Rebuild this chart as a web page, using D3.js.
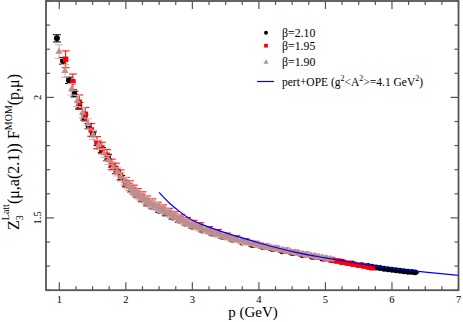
<!DOCTYPE html>
<html>
<head>
<meta charset="utf-8">
<script src="https://cdn.jsdelivr.net/npm/d3@7"></script>
<style>
  body { margin: 0; background: #fff; }
</style>
</head>
<body>
<script>
// beta = 2.10 (black circles)
var p210 = [0.964, 1.055, 1.145, 1.226, 1.300, 1.377, 1.440, 1.506, 1.575, 1.640, 1.732, 1.790, 1.860, 1.930, 2.000,
            2.080, 2.160, 2.240, 2.320, 2.400, 2.500, 2.600, 2.700, 2.800, 2.900, 3.000, 3.150, 3.300, 3.450, 3.600,
            3.750, 3.900, 4.050, 4.200, 4.350, 4.500, 4.650, 4.800, 4.950, 5.100, 5.250, 5.400, 5.550, 5.640, 5.700,
            5.760, 5.820, 5.880, 5.940, 6.000, 6.060, 6.120, 6.180, 6.240, 6.300, 6.350];
var z210 = [2.245, 2.152, 2.071, 2.014, 1.967, 1.917, 1.881, 1.847, 1.810, 1.782, 1.754, 1.720, 1.693, 1.667, 1.640,
            1.615, 1.595, 1.575, 1.558, 1.545, 1.530, 1.516, 1.502, 1.488, 1.476, 1.463, 1.448, 1.434, 1.421, 1.409,
            1.398, 1.388, 1.380, 1.371, 1.362, 1.354, 1.346, 1.339, 1.332, 1.325, 1.318, 1.311, 1.304, 1.300, 1.297,
            1.294, 1.292, 1.289, 1.287, 1.285, 1.283, 1.281, 1.279, 1.277, 1.276, 1.274];
var e210 = [0.015, 0.014, 0.013, 0.012, 0.012, 0.011, 0.011, 0.010, 0.010, 0.010, 0.010, 0.009, 0.009, 0.009, 0.008,
            0.008, 0.008, 0.008, 0.008, 0.007, 0.007, 0.007, 0.007, 0.007, 0.006, 0.006, 0.006, 0.006, 0.006, 0.005,
            0.005, 0.005, 0.005, 0.005, 0.005, 0.004, 0.004, 0.004, 0.004, 0.004, 0.004, 0.004, 0.004, 0.004, 0.003,
            0.003, 0.003, 0.003, 0.003, 0.003, 0.003, 0.003, 0.003, 0.003, 0.003, 0.003];

// beta = 1.95 (red squares)
var p195 = [1.095, 1.205, 1.300, 1.390, 1.480, 1.567, 1.640, 1.717, 1.790, 1.850, 1.920, 2.000, 2.060, 2.120, 2.180,
            2.250, 2.320, 2.400, 2.480, 2.560, 2.650, 2.740, 2.830, 2.920, 3.020, 3.120, 3.250, 3.380, 3.520, 3.660,
            3.800, 3.950, 4.100, 4.250, 4.400, 4.550, 4.700, 4.850, 5.000, 5.100, 5.180, 5.260, 5.340, 5.420, 5.500,
            5.580, 5.650, 5.700];
var z195 = [2.158, 2.065, 1.980, 1.930, 1.865, 1.812, 1.790, 1.760, 1.722, 1.705, 1.678, 1.648, 1.634, 1.617, 1.602,
            1.590, 1.573, 1.561, 1.548, 1.537, 1.523, 1.510, 1.499, 1.486, 1.475, 1.465, 1.450, 1.438, 1.424, 1.413,
            1.402, 1.391, 1.381, 1.373, 1.364, 1.356, 1.348, 1.339, 1.331, 1.325, 1.321, 1.316, 1.312, 1.308, 1.304,
            1.300, 1.296, 1.293];
var e195 = [0.035, 0.032, 0.030, 0.028, 0.026, 0.025, 0.024, 0.023, 0.022, 0.022, 0.021, 0.020, 0.020, 0.019, 0.019,
            0.018, 0.018, 0.018, 0.017, 0.017, 0.017, 0.016, 0.016, 0.016, 0.015, 0.015, 0.014, 0.014, 0.013, 0.013,
            0.012, 0.012, 0.011, 0.011, 0.011, 0.010, 0.010, 0.009, 0.009, 0.008, 0.008, 0.008, 0.007, 0.007, 0.007,
            0.006, 0.006, 0.006];

// beta = 1.90 (rosy triangles)
var p190 = [0.995, 1.085, 1.185, 1.270, 1.350, 1.430, 1.510, 1.590, 1.670, 1.740,
            1.810, 1.870, 1.930, 1.980, 2.030, 2.055, 2.080, 2.105, 2.130, 2.155,
            2.180, 2.205, 2.230, 2.260, 2.290, 2.320, 2.350, 2.380, 2.410, 2.440,
            2.470, 2.500, 2.530, 2.565, 2.600, 2.635, 2.670, 2.705, 2.740, 2.775,
            2.810, 2.845, 2.880, 2.915, 2.950, 2.990, 3.030, 3.070, 3.110, 3.155,
            3.200, 3.245, 3.290, 3.335, 3.380, 3.430, 3.480, 3.530, 3.580, 3.630,
            3.680, 3.735, 3.790, 3.845, 3.900, 3.955, 4.010, 4.065, 4.120, 4.180,
            4.240, 4.300, 4.360, 4.420, 4.480, 4.540, 4.600, 4.660, 4.720, 4.780,
            4.840, 4.900, 4.960, 5.020, 5.080];
var z190 = [2.190, 2.110, 2.034, 1.985, 1.937, 1.890, 1.845, 1.803, 1.769, 1.740,
            1.712, 1.691, 1.670, 1.652, 1.637, 1.629, 1.622, 1.615, 1.608, 1.602,
            1.596, 1.590, 1.585, 1.579, 1.573, 1.568, 1.563, 1.558, 1.553, 1.549,
            1.545, 1.540, 1.536, 1.531, 1.526, 1.520, 1.515, 1.510, 1.505, 1.500,
            1.495, 1.490, 1.485, 1.480, 1.476, 1.471, 1.467, 1.463, 1.459, 1.454,
            1.450, 1.445, 1.441, 1.436, 1.432, 1.428, 1.424, 1.420, 1.416, 1.412,
            1.409, 1.405, 1.401, 1.397, 1.394, 1.391, 1.388, 1.384, 1.381, 1.377,
            1.374, 1.370, 1.367, 1.363, 1.360, 1.357, 1.354, 1.351, 1.348, 1.345,
            1.342, 1.339, 1.336, 1.333, 1.330];
var e190 = [0.028, 0.026, 0.024, 0.023, 0.022, 0.021, 0.020, 0.019, 0.018, 0.018,
            0.017, 0.017, 0.017, 0.016, 0.016, 0.016, 0.016, 0.016, 0.016, 0.016,
            0.015, 0.015, 0.015, 0.015, 0.015, 0.015, 0.015, 0.015, 0.015, 0.015,
            0.014, 0.014, 0.014, 0.014, 0.014, 0.014, 0.014, 0.014, 0.014, 0.014,
            0.013, 0.013, 0.013, 0.013, 0.013, 0.013, 0.013, 0.013, 0.013, 0.013,
            0.012, 0.012, 0.012, 0.012, 0.012, 0.012, 0.012, 0.012, 0.012, 0.012,
            0.011, 0.011, 0.011, 0.010, 0.010, 0.010, 0.010, 0.010, 0.010, 0.010,
            0.010, 0.009, 0.009, 0.009, 0.009, 0.009, 0.009, 0.009, 0.009, 0.009,
            0.009, 0.008, 0.008, 0.008, 0.008];

// pert+OPE curve
var pFit = [2.50, 2.65, 2.81, 3.00, 3.20, 3.41, 3.70, 4.02, 4.30, 4.59, 5.00, 5.40, 5.67, 6.00, 6.50, 7.00];
var zFit = [1.606, 1.563, 1.526, 1.490, 1.467, 1.446, 1.421, 1.395, 1.374, 1.355, 1.334, 1.315, 1.303, 1.290, 1.275, 1.262];

var xTicks = [1, 2, 3, 4, 5, 6, 7];
var yTicks = [1.5, 2];

function init() {
    var W = 463, H = 322;
    var left = 46, right = 458.5, top = 1, bottom = 290.2;
    var serif = "'Liberation Serif', 'Times New Roman', Times, serif";

    var x = d3.scaleLinear().domain([0.8, 7]).range([left, right]);
    var y = d3.scaleLinear().domain([1.2, 2.4]).range([bottom, top]);

    var svg = d3.select("body").append("svg")
        .attr("width", W).attr("height", H)
        .attr("font-family", serif);

    // minor / major ticks, drawn inward on all four sides
    var frameCol = "#555";
    var ticks = svg.append("g").attr("stroke", frameCol).attr("stroke-width", 1.2);
    var xMinor = d3.range(1, 7.001, 0.25);
    xMinor.forEach(function(v) {
        var major = Math.abs(v - Math.round(v)) < 1e-6;
        var len = major ? 8 : 4;
        ticks.append("line").attr("x1", x(v)).attr("x2", x(v)).attr("y1", bottom).attr("y2", bottom - len);
        ticks.append("line").attr("x1", x(v)).attr("x2", x(v)).attr("y1", top).attr("y2", top + len);
    });
    var yMinor = d3.range(1.2, 2.4001, 0.1);
    yMinor.forEach(function(v) {
        var major = Math.abs(v * 2 - Math.round(v * 2)) < 1e-6;
        var len = major ? 8 : 4;
        ticks.append("line").attr("y1", y(v)).attr("y2", y(v)).attr("x1", left).attr("x2", left + len);
        ticks.append("line").attr("y1", y(v)).attr("y2", y(v)).attr("x1", right).attr("x2", right - len);
    });

    // frame
    svg.append("rect")
        .attr("x", left).attr("y", top)
        .attr("width", right - left).attr("height", bottom - top)
        .attr("fill", "none").attr("stroke", frameCol).attr("stroke-width", 1.8);

    // tick labels
    svg.append("g").selectAll("text").data(xTicks).enter().append("text")
        .attr("x", function(d) { return x(d); })
        .attr("y", 303)
        .attr("text-anchor", "middle")
        .attr("font-size", 10.5)
        .text(function(d) { return d; });

    svg.append("g").selectAll("text").data(yTicks).enter().append("text")
        .attr("transform", function(d) { return "translate(41," + y(d) + ") rotate(-90)"; })
        .attr("text-anchor", "middle")
        .attr("font-size", 10.5)
        .text(function(d) { return d; });

    // axis titles
    svg.append("text")
        .attr("x", 253).attr("y", 317)
        .attr("text-anchor", "middle")
        .attr("font-size", 15)
        .text("p (GeV)");

    var yl = svg.append("text")
        .attr("transform", "translate(19,230) rotate(-90)")
        .attr("font-size", 16);
    yl.append("tspan").text("Z");
    yl.append("tspan").attr("font-size", 10).attr("dy", 4).text("3");
    yl.append("tspan").attr("font-size", 10).attr("dx", -5).attr("dy", -14).text("Latt");
    yl.append("tspan").attr("dy", 10).text("(\u03bc,a(2.1)) F");
    yl.append("tspan").attr("font-size", 10).attr("dy", -7).text("MOM");
    yl.append("tspan").attr("dy", 7).text("(p,\u03bc)");

    var plot = svg.append("g");

    function drawSeries(ps, zs, es, color, barColor, shape, size) {
        var data = ps.map(function(p, i) { return {p: p, z: zs[i], e: es[i]}; });
        var g = plot.append("g");
        var bars = g.append("g").attr("stroke", barColor).attr("stroke-width", 1);
        data.forEach(function(d) {
            var cx = x(d.p), y0 = y(d.z - d.e), y1 = y(d.z + d.e);
            bars.append("line").attr("x1", cx).attr("x2", cx).attr("y1", y0).attr("y2", y1);
            bars.append("line").attr("x1", cx - 4).attr("x2", cx + 4).attr("y1", y0).attr("y2", y0);
            bars.append("line").attr("x1", cx - 4).attr("x2", cx + 4).attr("y1", y1).attr("y2", y1);
        });
        g.selectAll("path.m").data(data).enter().append("path")
            .attr("class", "m")
            .attr("d", d3.symbol().type(shape).size(size))
            .attr("transform", function(d) { return "translate(" + x(d.p) + "," + y(d.z) + ")"; })
            .attr("fill", color);
    }

    drawSeries(p210, z210, e210, "#000000", "#000000", d3.symbolCircle, 28);
    drawSeries(p195, z195, e195, "#ff0000", "#ff0000", d3.symbolSquare, 30);
    drawSeries(p190, z190, e190, "#bc8f8f", "#d3adad", d3.symbolTriangle, 22);

    // pert+OPE line
    var fit = pFit.map(function(p, i) { return [p, zFit[i]]; });
    plot.append("path")
        .datum(fit)
        .attr("fill", "none")
        .attr("stroke", "#0000ff")
        .attr("stroke-width", 1.2)
        .attr("d", d3.line()
            .x(function(d) { return x(d[0]); })
            .y(function(d) { return y(d[1]); })
            .curve(d3.curveMonotoneX));

    // legend
    var leg = svg.append("g");
    var ly = [32.7, 45.7, 62.3];
    leg.append("path").attr("d", d3.symbol().type(d3.symbolCircle).size(12)())
        .attr("transform", "translate(266," + ly[0] + ")").attr("fill", "#000");
    leg.append("path").attr("d", d3.symbol().type(d3.symbolSquare).size(14)())
        .attr("transform", "translate(266," + ly[1] + ")").attr("fill", "#ff0000");
    leg.append("path").attr("d", d3.symbol().type(d3.symbolTriangle).size(12)())
        .attr("transform", "translate(266," + ly[2] + ")").attr("fill", "#bc8f8f");
    leg.append("line").attr("x1", 257).attr("x2", 274).attr("y1", 81.5).attr("y2", 81.5)
        .attr("stroke", "#0000ff").attr("stroke-width", 1.2);

    var labels = ["\u03b2=2.10", "\u03b2=1.95", "\u03b2=1.90"];
    labels.forEach(function(t, i) {
        leg.append("text").attr("x", 282).attr("y", ly[i] + 4).attr("font-size", 11.8).text(t);
    });
    var lt = leg.append("text").attr("x", 282).attr("y", 85.5).attr("font-size", 11.5);
    lt.append("tspan").text("pert+OPE (g");
    lt.append("tspan").attr("font-size", 8).attr("dy", -5).text("2");
    lt.append("tspan").attr("dy", 5).text("<A");
    lt.append("tspan").attr("font-size", 8).attr("dy", -5).text("2");
    lt.append("tspan").attr("dy", 5).text(">=4.1 GeV");
    lt.append("tspan").attr("font-size", 8).attr("dy", -5).text("2");
    lt.append("tspan").attr("dy", 5).text(")");
}

window.onload = init;
</script>
</body>
</html>
